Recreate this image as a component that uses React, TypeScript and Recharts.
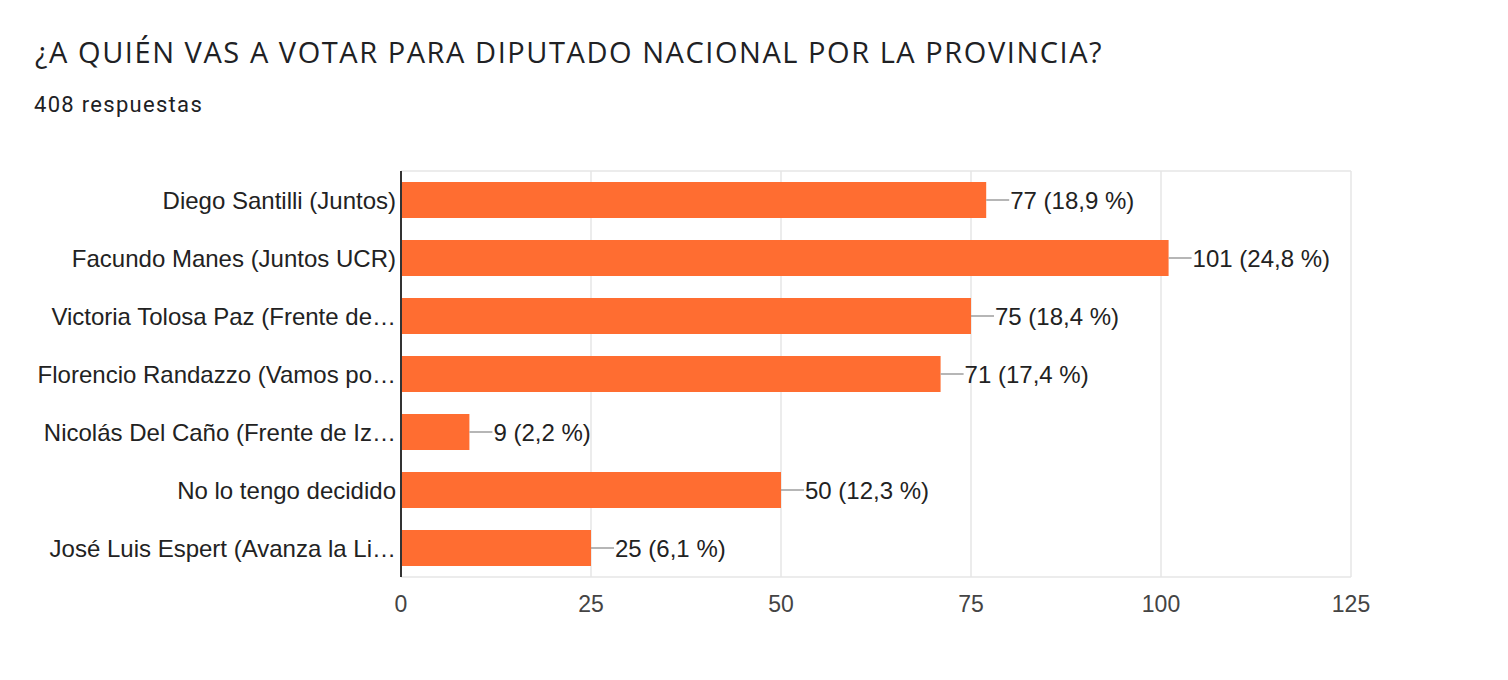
import React from "react";
import { BarChart, Bar, XAxis, YAxis, CartesianGrid, LabelList } from "recharts";

const categories = [
  "Diego Santilli (Juntos)",
  "Facundo Manes (Juntos UCR)",
  "Victoria Tolosa Paz (Frente de…",
  "Florencio Randazzo (Vamos po…",
  "Nicolás Del Caño (Frente de Iz…",
  "No lo tengo decidido",
  "José Luis Espert (Avanza la Li…",
];
const votes = [77, 101, 75, 71, 9, 50, 25];
const percents = ["18,9", "24,8", "18,4", "17,4", "2,2", "12,3", "6,1"];
const xTicks = [0, 25, 50, 75, 100, 125];

const data = categories.map((name, i) => ({ name, votes: votes[i], pct: percents[i] }));

const ORANGE = "#FF6D31";
const CHART_FONT = "'Liberation Sans', Arial, sans-serif";

const ValueLabel = (props: any) => {
  const { x, y, width, height, index } = props;
  const x2 = Number(x) + Number(width);
  const cy = Number(y) + Number(height) / 2;
  return (
    <g>
      <line x1={x2} y1={cy} x2={x2 + 23} y2={cy} stroke="#9e9e9e" strokeWidth={1.5} />
      <text
        x={x2 + 24}
        y={cy}
        dominantBaseline="central"
        fontFamily={CHART_FONT}
        fontSize={24}
        fill="#222222"
      >
        {`${votes[index]} (${percents[index]} %)`}
      </text>
    </g>
  );
};

export default function App() {
  return (
    <div style={{ position: "absolute", left: 0, top: 0, width: 1508, height: 680, background: "#fff" }}>
      <div
        style={{
          position: "absolute",
          left: 35,
          top: 33,
          fontFamily: "'Open Sans', sans-serif",
          fontSize: 29,
          letterSpacing: 1.55,
          color: "#202124",
          whiteSpace: "nowrap",
          lineHeight: "38px",
        }}
      >
        ¿A QUIÉN VAS A VOTAR PARA DIPUTADO NACIONAL POR LA PROVINCIA?
      </div>
      <div
        style={{
          position: "absolute",
          left: 34,
          top: 92,
          fontFamily: "Roboto, sans-serif",
          fontSize: 22,
          letterSpacing: 1.3,
          color: "#202124",
          whiteSpace: "nowrap",
          lineHeight: "26px",
        }}
      >
        408 respuestas
      </div>
      <div style={{ position: "absolute", left: 0, top: 0 }}>
        <BarChart
          width={1508}
          height={680}
          data={data}
          layout="vertical"
          margin={{ top: 171, right: 157, bottom: 73, left: 0 }}
          barCategoryGap={0}
        >
          <CartesianGrid
            stroke="#e6e6e6"
            strokeWidth={1.5}
            horizontalCoordinatesGenerator={(p: any) => [p.offset.top, p.offset.top + p.offset.height]}
          />
          <XAxis
            type="number"
            domain={[0, 125]}
            ticks={xTicks}
            axisLine={false}
            tickLine={false}
            tickSize={0}
            tickMargin={19}
            height={30}
            tick={{ fontFamily: CHART_FONT, fontSize: 23, fill: "#444444" }}
          />
          <YAxis
            type="category"
            dataKey="name"
            width={401}
            axisLine={{ stroke: "#333333", strokeWidth: 2 }}
            tickLine={false}
            tickSize={0}
            tickMargin={5}
            interval={0}
            tick={{ fontFamily: CHART_FONT, fontSize: 24, fill: "#222222" }}
          />
          <Bar dataKey="votes" fill={ORANGE} barSize={36} isAnimationActive={false}>
            <LabelList dataKey="votes" content={ValueLabel} />
          </Bar>
        </BarChart>
      </div>
    </div>
  );
}
